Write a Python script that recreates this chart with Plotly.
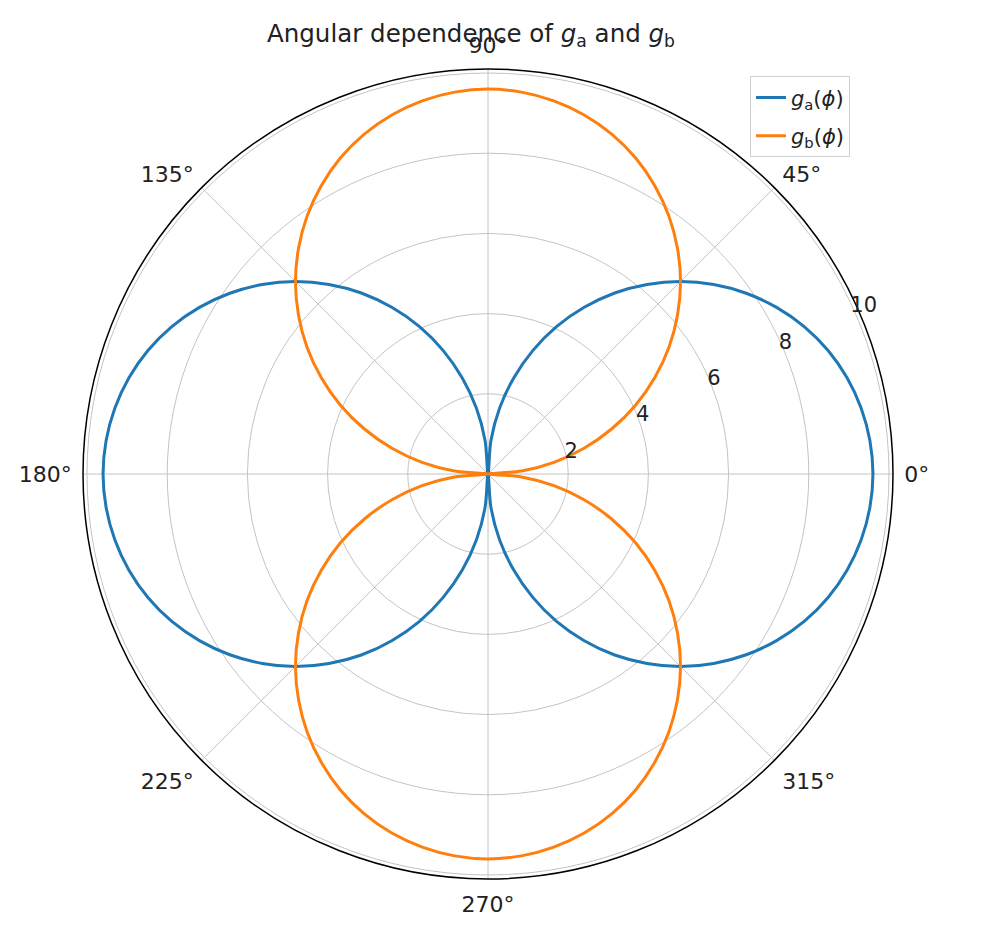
import plotly.graph_objects as go

# Angles (degrees) and values
phi_deg = list(range(0, 361, 5))
g_a = [9.6, 9.56, 9.45, 9.27, 9.02, 8.7, 8.31, 7.86, 7.35, 6.79, 6.17, 5.51,
       4.8, 4.06, 3.28, 2.48, 1.67, 0.84, 0.0,
       0.84, 1.67, 2.48, 3.28, 4.06, 4.8, 5.51, 6.17, 6.79, 7.35, 7.86, 8.31, 8.7,
       9.02, 9.27, 9.45, 9.56, 9.6,
       9.56, 9.45, 9.27, 9.02, 8.7, 8.31, 7.86, 7.35, 6.79, 6.17, 5.51,
       4.8, 4.06, 3.28, 2.48, 1.67, 0.84, 0.0,
       0.84, 1.67, 2.48, 3.28, 4.06, 4.8, 5.51, 6.17, 6.79, 7.35, 7.86, 8.31, 8.7,
       9.02, 9.27, 9.45, 9.56, 9.6]
g_b = [0.0, 0.84, 1.67, 2.48, 3.28, 4.06, 4.8, 5.51, 6.17, 6.79, 7.35, 7.86,
       8.31, 8.7, 9.02, 9.27, 9.45, 9.56, 9.6,
       9.56, 9.45, 9.27, 9.02, 8.7, 8.31, 7.86, 7.35, 6.79, 6.17, 5.51, 4.8, 4.06,
       3.28, 2.48, 1.67, 0.84, 0.0,
       0.84, 1.67, 2.48, 3.28, 4.06, 4.8, 5.51, 6.17, 6.79, 7.35, 7.86,
       8.31, 8.7, 9.02, 9.27, 9.45, 9.56, 9.6,
       9.56, 9.45, 9.27, 9.02, 8.7, 8.31, 7.86, 7.35, 6.79, 6.17, 5.51, 4.8, 4.06,
       3.28, 2.48, 1.67, 0.84, 0.0]
r_ticks = [2, 4, 6, 8, 10]
theta_ticks = [0, 45, 90, 135, 180, 225, 270, 315]
theta_labels = ["0°", "45°", "90°", "135°", "180°", "225°", "270°", "315°"]

fig = go.Figure()
fig.add_trace(go.Scatterpolar(r=g_a, theta=phi_deg, mode="lines", legendgroup="a",
                              line=dict(color="#1f77b4", width=3, shape="spline", smoothing=1),
                              name="<i>g</i><sub>a</sub>(<i>ϕ</i>)"))
fig.add_trace(go.Scatterpolar(r=g_b, theta=phi_deg, mode="lines", legendgroup="b",
                              line=dict(color="#ff7f0e", width=3, shape="spline", smoothing=1),
                              name="<i>g</i><sub>b</sub>(<i>ϕ</i>)"))

grid = "#c4c4c4"
fig.update_layout(
    width=1000, height=950,
    paper_bgcolor="white",
    font=dict(family="DejaVu Sans", size=22, color="#222"),
    margin=dict(l=0, r=0, t=0, b=0),
    title=dict(text="Angular dependence of <i>g</i><sub>a</sub> and <i>g</i><sub>b</sub>",
               x=0.463, xanchor="center", y=0.973, yanchor="middle",
               font=dict(size=24.5, color="#222")),
    polar=dict(
        domain=dict(x=[0.075, 0.885], y=[1 - 871 / 950, 1 - 61 / 950]),
        bgcolor="white",
        radialaxis=dict(range=[0, 10.1], tickvals=r_ticks, angle=27,
                        side="clockwise",
                        showline=False, ticks="", gridcolor=grid, gridwidth=1,
                        tickfont=dict(size=21), tickangle=27),
        angularaxis=dict(tickvals=theta_ticks, ticktext=theta_labels,
                         direction="counterclockwise", rotation=0,
                         showline=True, linecolor="black", linewidth=1.5,
                         gridcolor=grid, gridwidth=1,
                         ticks="outside", ticklen=6, tickcolor="rgba(0,0,0,0)",
                         tickfont=dict(size=22)),
    ),
    legend=dict(x=0.742, y=0.928, xanchor="left", yanchor="top",
                bgcolor="rgba(255,255,255,0.85)", bordercolor="#d0d0d0", borderwidth=1,
                font=dict(size=21), tracegroupgap=8, traceorder="grouped"),
)

fig.write_html("out.html")
